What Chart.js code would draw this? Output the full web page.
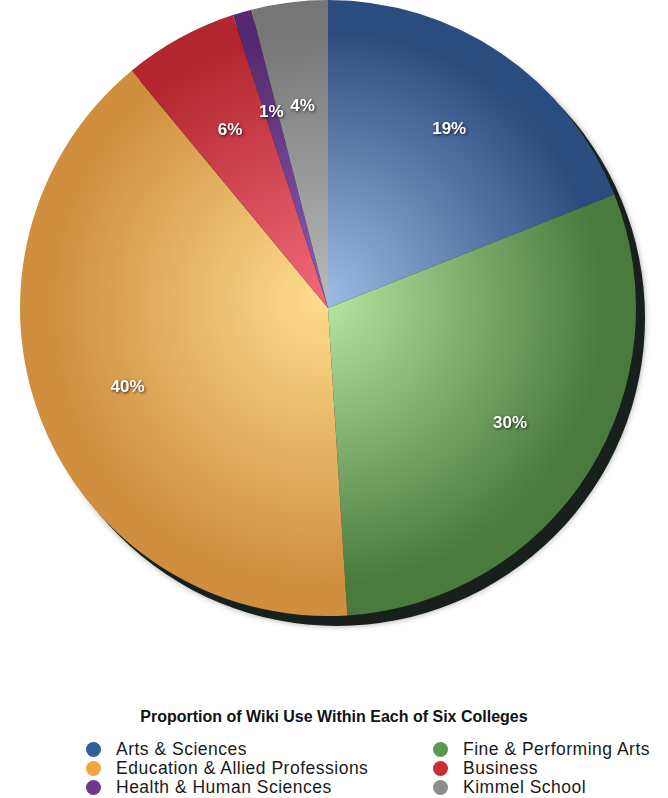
<!DOCTYPE html>
<html>
<head>
<meta charset="utf-8">
<script src="https://cdn.jsdelivr.net/npm/chart.js@4/dist/chart.umd.min.js"></script>
<style>
  body { margin: 0; background: #fff; font-family: "Liberation Sans", Arial, sans-serif; }
  #wrap { position: relative; width: 668px; height: 798px; overflow: hidden; }
  #pie-box { position: absolute; left: 0; top: 0; width: 668px; height: 650px; }
  #title { position: absolute; left: 0; width: 668px; top: 708px; text-align: center;
           font-weight: bold; font-size: 16px; color: #111; }
  .item { position: absolute; font-size: 17.5px; letter-spacing: 0.5px; color: #1a1a1a;
          line-height: 19px; white-space: nowrap; }
  .dot { position: absolute; width: 15px; height: 15px; border-radius: 50%; }
</style>
</head>
<body>
<div id="wrap">
  <div id="pie-box"><canvas id="wiki-chart"></canvas></div>
  <div id="title"></div>
  <div id="legend"></div>
</div>
<script>
// Dữ liệu biểu đồ
const colleges = ['Arts & Sciences', 'Fine & Performing Arts', 'Education & Allied Professions',
                  'Business', 'Health & Human Sciences', 'Kimmel School'];
const shares = [19, 30, 40, 6, 1, 4];
const chartTitle = 'Proportion of Wiki Use Within Each of Six Colleges';

// Màu sắc (sáng ở tâm, tối ở rìa, màu chú thích)
const lightColors = ['#9cbde6', '#b8e6a4', '#ffdc8e', '#f06878', '#8a5ab2', '#b8b8b8'];
const darkColors  = ['#2b4c7e', '#4a7a3e', '#cf8f3e', '#b3262f', '#55296f', '#767676'];
const legendColors = ['#2f5e9b', '#5a9a4c', '#f0a53c', '#cc2b31', '#6b3a8c', '#8c8c8c'];

// Gradient cho từng lát, tính theo vùng vẽ của biểu đồ
function sliceGradient(context) {
    const chart = context.chart;
    const area = chart.chartArea;
    if (!area) return darkColors[context.dataIndex];
    const cx = (area.left + area.right) / 2;
    const cy = (area.top + area.bottom) / 2;
    const r = Math.min(area.right - area.left, area.bottom - area.top) / 2;
    const g = chart.ctx.createRadialGradient(cx - 8, cy - 10, 0, cx, cy, r);
    g.addColorStop(0, lightColors[context.dataIndex]);
    g.addColorStop(0.9, darkColors[context.dataIndex]);
    g.addColorStop(1, darkColors[context.dataIndex]);
    return g;
}

// Bóng đổ phía sau bánh
const pieShadow = {
    id: 'pieShadow',
    beforeDatasetsDraw(chart) {
        const arc = chart.getDatasetMeta(0).data[0];
        if (!arc) return;
        const ctx = chart.ctx;
        ctx.save();
        ctx.beginPath();
        ctx.arc(arc.x + 9, arc.y + 10, arc.outerRadius, 0, Math.PI * 2);
        ctx.fillStyle = '#17201a';
        ctx.shadowColor = 'rgba(0,0,0,0.35)';
        ctx.shadowBlur = 6;
        ctx.fill();
        ctx.restore();
    }
};

// Nhãn phần trăm
const percentLabels = {
    id: 'percentLabels',
    afterDatasetsDraw(chart) {
        const ctx = chart.ctx;
        const meta = chart.getDatasetMeta(0);
        ctx.save();
        ctx.font = 'bold 17px "Liberation Sans", Arial, sans-serif';
        ctx.textAlign = 'center';
        ctx.textBaseline = 'middle';
        ctx.fillStyle = '#ffffff';
        ctx.shadowColor = 'rgba(0,0,0,0.75)';
        ctx.shadowBlur = 3;
        ctx.shadowOffsetX = 1;
        ctx.shadowOffsetY = 1;
        meta.data.forEach((arc, i) => {
            const mid = (arc.startAngle + arc.endAngle) / 2;
            const r = arc.outerRadius * (shares[i] >= 10 ? 0.7 : 0.66);
            ctx.fillText(shares[i] + '%', arc.x + Math.cos(mid) * r, arc.y + Math.sin(mid) * r);
        });
        ctx.restore();
    }
};

new Chart(document.getElementById('wiki-chart'), {
    type: 'pie',
    data: {
        labels: colleges,
        datasets: [{
            data: shares,
            backgroundColor: sliceGradient,
            borderWidth: 0
        }]
    },
    options: {
        responsive: true,
        maintainAspectRatio: false,
        animation: false,
        layout: { padding: { left: 20, right: 32, top: 0, bottom: 34 } },
        plugins: {
            legend: { display: false },
            tooltip: { enabled: false }
        }
    },
    plugins: [pieShadow, percentLabels]
});

// Tiêu đề và chú thích
document.getElementById('title').textContent = chartTitle;
const legend = document.getElementById('legend');
colleges.forEach((name, i) => {
    const col = i % 2;
    const row = Math.floor(i / 2);
    const x = col === 0 ? 86 : 433;
    const y = 740 + row * 19;
    const dot = document.createElement('div');
    dot.className = 'dot';
    dot.style.left = x + 'px';
    dot.style.top = (y + 2) + 'px';
    dot.style.background = legendColors[i];
    const txt = document.createElement('div');
    txt.className = 'item';
    txt.style.left = (x + 30) + 'px';
    txt.style.top = y + 'px';
    txt.textContent = name;
    legend.appendChild(dot);
    legend.appendChild(txt);
});
</script>
</body>
</html>
